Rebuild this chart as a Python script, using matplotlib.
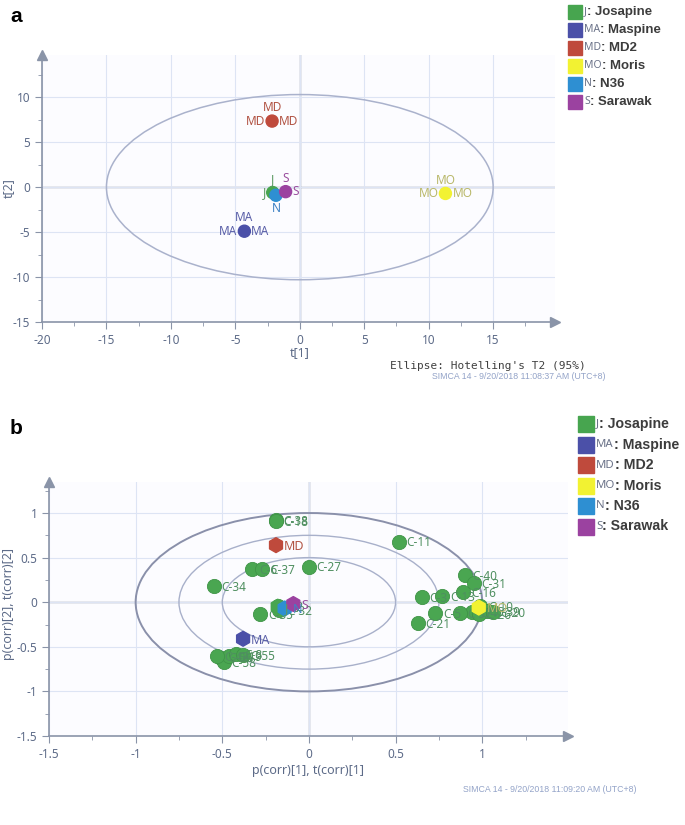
import numpy as np
import matplotlib.pyplot as plt
from matplotlib.patches import Ellipse, Rectangle
from matplotlib.ticker import MultipleLocator, FuncFormatter

plt.rcParams['font.family'] = ['Noto Sans', 'DejaVu Sans']
plt.rcParams['axes.unicode_minus'] = False

W, H = 685, 825

# classes (cultivars)
codes = ['J', 'MA', 'MD', 'MO', 'N', 'S']
names = ['Josapine', 'Maspine', 'MD2', 'Moris', 'N36', 'Sarawak']
cols = ['#47a54f', '#4b50a8', '#bf4a3c', '#f2f232', '#2e8fd2', '#9b42a0']
tcols = ['#5c9a62', '#5a5fa8', '#b25444', '#b9b86a', '#3f82c4', '#9a4d9e']

# panel a: scores t[1], t[2]
t1 = [-2.1, -4.3, -2.15, 11.3, -1.85, -1.1]
t2 = [-0.6, -4.9, 7.35, -0.7, -0.9, -0.5]

# panel b: variables p(corr)[1], p(corr)[2]
var_names = ['C-38', 'C-18', 'C-6', 'C-37', 'C-27', 'C-34', 'C-11', 'C-40',
             'C-31', 'C-16', 'C-3', 'C-13', 'C-5', 'C-21', 'C-35', 'C-32',
             'C-2', 'C-10', 'C-39', 'C-4', 'C-20', 'C-26', 'C-52',
             'C-56', 'C-58', 'C-19', 'C-8', 'C-55', 'C-48']
var_p1 = [-0.19, -0.19, -0.33, -0.27, 0.0, -0.55, 0.52, 0.90,
          0.95, 0.89, 0.65, 0.77, 0.73, 0.63, -0.28, -0.17,
          -0.18, 0.99, 1.03, 0.94, 1.06, 0.98, 0.87,
          -0.51, -0.49, -0.46, -0.42, -0.38, -0.53]
var_p2 = [0.92, 0.91, 0.37, 0.37, 0.40, 0.18, 0.68, 0.30,
          0.21, 0.11, 0.06, 0.07, -0.12, -0.23, -0.13, -0.09,
          -0.04, -0.04, -0.10, -0.11, -0.11, -0.13, -0.12,
          -0.62, -0.67, -0.60, -0.58, -0.59, -0.60]
# panel b: classes t(corr)[1], t(corr)[2]
cls_p1 = [-0.18, -0.38, -0.19, 0.98, -0.14, -0.09]
cls_p2 = [-0.05, -0.41, 0.64, -0.06, -0.07, -0.02]

AX = '#8a94a8'
TICK = '#5d6b88'
GRID = '#dde4f4'


def px_axes(fig, l, t, r, b):
    return fig.add_axes([l / W, 1 - b / H, (r - l) / W, (b - t) / H])


def simca_style(ax, xmaj, ymaj):
    ax.set_facecolor('#fcfcff')
    for s in ['top', 'right']:
        ax.spines[s].set_visible(False)
    for s in ['left', 'bottom']:
        ax.spines[s].set_color(AX)
        ax.spines[s].set_linewidth(1.2)
    ax.xaxis.set_major_locator(MultipleLocator(xmaj))
    ax.yaxis.set_major_locator(MultipleLocator(ymaj))
    ax.xaxis.set_minor_locator(MultipleLocator(xmaj / 2))
    ax.yaxis.set_minor_locator(MultipleLocator(ymaj / 2))
    fmt = FuncFormatter(lambda v, p: '%g' % v)
    ax.xaxis.set_major_formatter(fmt)
    ax.yaxis.set_major_formatter(fmt)
    ax.tick_params(which='both', colors=AX, labelcolor=TICK, labelsize=8.5)
    ax.tick_params(which='major', length=5)
    ax.tick_params(which='minor', length=3)
    ax.grid(True, which='major', color=GRID, lw=0.8, zorder=0)
    ax.axhline(0, color='#8f98aa', lw=1, zorder=1)
    ax.axvline(0, color='#8f98aa', lw=1, zorder=1)
    ax.plot(0, 1, '^', color=AX, ms=7, transform=ax.transAxes, clip_on=False)
    ax.plot(1, 0, '>', color=AX, ms=7, transform=ax.transAxes, clip_on=False)


def legend(fig, x0, y0, dy, sq, fs):
    r = fig.canvas.get_renderer()
    for i in range(len(codes)):
        y = y0 + i * dy
        fig.patches.append(Rectangle((x0 / W, 1 - (y + sq / 2) / H), sq / W, sq / H,
                                     transform=fig.transFigure, color=cols[i]))
        t = fig.text((x0 + sq + 2) / W, 1 - y / H, codes[i], fontsize=fs - 2,
                     color='#6a7288', va='center')
        bb = t.get_window_extent(r)
        fig.text(bb.x1 / W, 1 - y / H, ': ' + names[i], fontsize=fs, color='#3c3c3c',
                 fontweight='bold', va='center', family='Liberation Sans')


fig = plt.figure(figsize=(W / 100, H / 100), dpi=100)

# ---------------- panel a
ax = px_axes(fig, 42, 55, 555, 322)
ax.set_xlim(-20, 19.8)
ax.set_ylim(-15, 14.7)
simca_style(ax, 5, 5)
ax.add_patch(Ellipse((0, 0), 30, 20.6, fill=False, ec='#aab2cc', lw=1.1, zorder=2))
ax.scatter(t1, t2, s=75, c=cols, edgecolors=cols, zorder=4)
sides = {'J': ['top', 'left'], 'MA': ['top', 'left', 'right'],
         'MD': ['top', 'left', 'right'], 'MO': ['top', 'left', 'right'],
         'N': ['bottom'], 'S': ['top', 'right']}
offs = {'top': ((0, 5), 'center', 'bottom'), 'left': ((-5, 0), 'right', 'center'),
        'right': ((5, 0), 'left', 'center'), 'bottom': ((0, -5), 'center', 'top')}
for i, c in enumerate(codes):
    for sd in sides[c]:
        o, ha, va = offs[sd]
        ax.annotate(c, (t1[i], t2[i]), xytext=o, textcoords='offset points',
                    ha=ha, va=va, fontsize=8.5, color=tcols[i], zorder=5)
ax.set_xlabel('t[1]', color=TICK, fontsize=9)
ax.set_ylabel('t[2]', color=TICK, fontsize=9)
ax.xaxis.set_label_coords((300 - 42) / 513, -0.09)
ax.yaxis.set_label_coords((15 - 42) / 513, 0.5)
fig.text(10 / W, 1 - 17 / H, 'a', fontsize=15, fontweight='bold', va='center',
         family='Liberation Sans')
fig.text(390 / W, 1 - 366 / H, "Ellipse: Hotelling's T2 (95%)", fontsize=8,
         family='DejaVu Sans Mono', color='#404040', va='center')
fig.text(432 / W, 1 - 376 / H, 'SIMCA 14 - 9/20/2018 11:08:37 AM (UTC+8)',
         fontsize=6.3, color='#93a3c8', va='center', family='Liberation Sans')
legend(fig, 568, 12, 18, 14, 9.5)

# ---------------- panel b
bx = px_axes(fig, 49, 482, 568, 736)
bx.set_xlim(-1.5, 1.495)
bx.set_ylim(-1.5, 1.348)
simca_style(bx, 0.5, 0.5)
for rr, ec, lw in [(1.0, '#8a90aa', 1.4), (0.75, '#a8b0ca', 1.0), (0.5, '#a8b0ca', 1.0)]:
    bx.add_patch(Ellipse((0, 0), 2 * rr, 2 * rr, fill=False, ec=ec, lw=lw, zorder=2))
bx.scatter(var_p1, var_p2, s=105, c='#4aa651', edgecolors='#3f9447', lw=0.6,
           zorder=4)
for n, x, y in zip(var_names, var_p1, var_p2):
    bx.annotate(n, (x, y), xytext=(5.5, -1), textcoords='offset points', ha='left',
                va='center', fontsize=8.5, color='#4f8f60', zorder=5)
bx.scatter(cls_p1, cls_p2, s=115, marker='h', c=cols, edgecolors=cols, zorder=6)
for i, c in enumerate(codes):
    bx.annotate(c, (cls_p1[i], cls_p2[i]), xytext=(5.5, -1), textcoords='offset points',
                ha='left', va='center', fontsize=9, color=tcols[i], zorder=7)
bx.set_xlabel('p(corr)[1], t(corr)[1]', color=TICK, fontsize=9, labelpad=2)
bx.set_ylabel('p(corr)[2], t(corr)[2]', color=TICK, fontsize=9)
bx.yaxis.set_label_coords((15 - 49) / 519, 0.52)
fig.text(10 / W, 1 - 428 / H, 'b', fontsize=15, fontweight='bold', va='center',
         family='Liberation Sans')
fig.text(463 / W, 1 - 790 / H, 'SIMCA 14 - 9/20/2018 11:09:20 AM (UTC+8)',
         fontsize=6.3, color='#93a3c8', va='center', family='Liberation Sans')
legend(fig, 578, 424, 20.5, 16, 10.2)

fig.savefig('out.png', dpi=100)
